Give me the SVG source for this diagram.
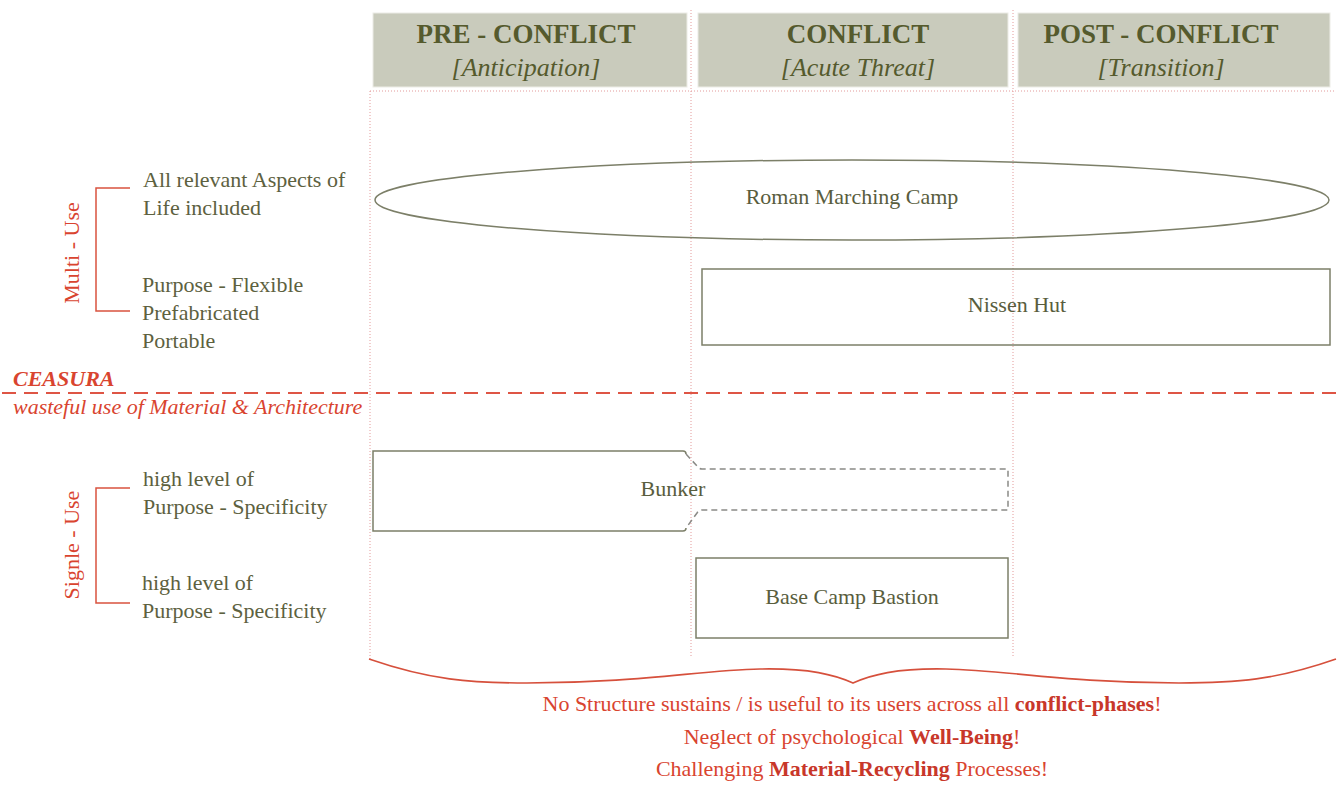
<svg xmlns="http://www.w3.org/2000/svg" width="1340" height="788" viewBox="0 0 1340 788">
  <style>
    .hdr { fill: #c9cbbc; stroke: #ecece6; stroke-width: 1; }
    .ht { font-family: "Liberation Serif", serif; font-weight: bold; font-size: 27px; fill: #555a2d; text-anchor: middle; }
    .hs { font-family: "Liberation Serif", serif; font-style: italic; font-size: 26px; fill: #555a2d; text-anchor: middle; }
    .grid { stroke: #e39a9a; stroke-width: 1; stroke-dasharray: 1 2; fill: none; }
    .node { fill: none; stroke: #7c7f68; stroke-width: 1.5; }
    .dash { fill: none; stroke: #8a8a86; stroke-width: 1.5; stroke-dasharray: 6 4; }
    .nt { font-family: "Liberation Serif", serif; font-size: 22px; fill: #595d3d; text-anchor: middle; }
    .lt { font-family: "Liberation Serif", serif; font-size: 22px; fill: #5d6140; }
    .red { fill: #d9442f; font-family: "Liberation Serif", serif; font-size: 22px; }
    .bracket { fill: none; stroke: #d9533f; stroke-width: 1.5; }
    .bt { font-family: "Liberation Serif", serif; font-size: 22px; fill: #d9442f; text-anchor: middle; }
    .bt tspan.b { font-weight: bold; fill: #c8372a; }
  </style>

  <!-- phase headers -->
  <g id="phase-pre">
    <rect class="hdr" x="373" y="13" width="314" height="74"/>
    <text class="ht" x="526" y="43">PRE - CONFLICT</text>
    <text class="hs" x="526" y="76">[Anticipation]</text>
  </g>
  <g id="phase-conflict">
    <rect class="hdr" x="698" y="13" width="310" height="74"/>
    <text class="ht" x="858" y="43">CONFLICT</text>
    <text class="hs" x="858" y="76">[Acute Threat]</text>
  </g>
  <g id="phase-post">
    <rect class="hdr" x="1018" y="13" width="312" height="74"/>
    <text class="ht" x="1161" y="43">POST - CONFLICT</text>
    <text class="hs" x="1161" y="76">[Transition]</text>
  </g>

  <!-- phase grid -->
  <g id="grid">
    <line class="grid" x1="370" y1="91" x2="1335" y2="91" stroke="#d9b0b0"/>
    <line class="grid" x1="370" y1="91" x2="370" y2="659"/>
    <line class="grid" x1="691" y1="10" x2="691" y2="658"/>
    <line class="grid" x1="1013" y1="10" x2="1013" y2="658"/>
  </g>

  <!-- structures -->
  <g id="roman-marching-camp">
    <ellipse class="node" cx="852" cy="200" rx="477" ry="40"/>
    <text class="nt" x="852" y="204">Roman Marching Camp</text>
  </g>
  <g id="nissen-hut">
    <rect class="node" x="702" y="269" width="628" height="76"/>
    <text class="nt" x="1017" y="312">Nissen Hut</text>
  </g>
  <g id="bunker">
    <path class="node" d="M686,528 Q686,531 683,531 H373 V451 H683 Q686,451 686,454"/>
    <path class="dash" d="M686,454 L697,466 Q699,469 702,469 H1008 V510 H702 Q699,510 697,513 L686,528"/>
    <text class="nt" x="673" y="496">Bunker</text>
  </g>
  <g id="base-camp-bastion">
    <rect class="node" x="696" y="558" width="312" height="80"/>
    <text class="nt" x="852" y="604">Base Camp Bastion</text>
  </g>

  <!-- multi-use group -->
  <g id="multi-use">
    <path class="bracket" d="M130,188 H96 V311 H130"/>
    <text class="red" transform="translate(79,253) rotate(-90)" text-anchor="middle">Multi - Use</text>
    <text class="lt" x="143" y="187">All relevant Aspects of</text>
    <text class="lt" x="143" y="215">Life included</text>
    <text class="lt" x="142" y="292">Purpose - Flexible</text>
    <text class="lt" x="142" y="320">Prefabricated</text>
    <text class="lt" x="142" y="348">Portable</text>
  </g>

  <!-- ceasura divider -->
  <g id="ceasura">
    <line x1="2" y1="393" x2="1340" y2="393" stroke="#de5545" stroke-width="2" stroke-dasharray="14 8"/>
    <text class="red" x="13" y="386" font-weight="bold" font-style="italic">CEASURA</text>
    <text class="red" x="13" y="414" font-style="italic">wasteful use of Material &amp; Architecture</text>
  </g>

  <!-- single-use group -->
  <g id="single-use">
    <path class="bracket" d="M130,488 H96 V603 H130"/>
    <text class="red" transform="translate(79,545) rotate(-90)" text-anchor="middle">Signle - Use</text>
    <text class="lt" x="143" y="486">high level of</text>
    <text class="lt" x="143" y="514">Purpose - Specificity</text>
    <text class="lt" x="142" y="590">high level of</text>
    <text class="lt" x="142" y="618">Purpose - Specificity</text>
  </g>

  <!-- summary brace -->
  <g id="summary">
    <path d="M369,659 C430,680 470,683 527,683 C640,683 700,670 760,669 C810,668 835,675 853,683 C871,675 896,668 946,669 C1006,670 1066,683 1179,683 C1236,683 1276,680 1336,659" fill="none" stroke="#d6503c" stroke-width="1.6"/>
    <text class="bt" x="852" y="711">No Structure sustains / is useful to its users across all <tspan class="b">conflict-phases</tspan>!</text>
    <text class="bt" x="852" y="744">Neglect of psychological <tspan class="b">Well-Being</tspan>!</text>
    <text class="bt" x="852" y="776">Challenging <tspan class="b">Material-Recycling</tspan> Processes!</text>
  </g>
</svg>
